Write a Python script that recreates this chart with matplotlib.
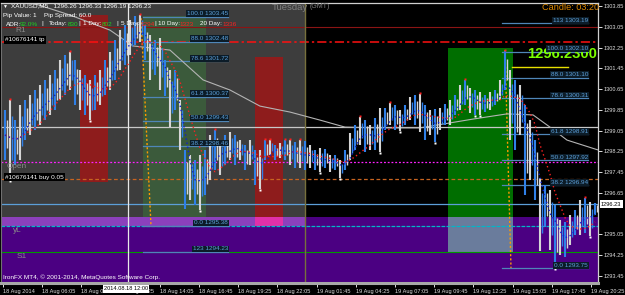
import numpy as np
import pandas as pd
import matplotlib
matplotlib.use("Agg")
import matplotlib.pyplot as plt
from matplotlib import font_manager as fm
from matplotlib.patches import Rectangle

# ---------------- data ----------------
highs = [1299.85, 1300.24, 1299.46, 1300.04, 1300.24, 1300.43, 1300.62, 1300.81, 1301.01, 1301.20,
         1301.39, 1301.78, 1301.97, 1302.09, 1301.78, 1301.39, 1301.20, 1301.01, 1301.20, 1301.39,
         1301.78, 1302.09, 1302.55, 1302.93, 1303.13, 1303.32, 1303.47, 1303.51, 1303.13, 1302.74,
         1302.55, 1302.63, 1301.78, 1301.39, 1301.39, 1300.24, 1298.31, 1298.12, 1297.92, 1298.12,
         1298.31, 1298.89, 1299.08, 1298.69, 1298.89, 1299.00, 1298.89, 1298.69, 1298.50, 1298.69,
         1298.31, 1298.31, 1298.69, 1298.69, 1298.50, 1298.58, 1298.69, 1298.69, 1298.62, 1298.69,
         1298.65, 1298.50, 1298.31, 1298.38, 1298.35, 1298.12, 1298.12, 1297.92, 1298.31, 1298.96,
         1299.27, 1299.58, 1299.46, 1299.27, 1299.54, 1299.93, 1299.93, 1300.12, 1300.04, 1299.85,
         1300.04, 1300.35, 1300.43, 1300.47, 1300.04, 1299.85, 1299.89, 1299.93, 1300.08, 1300.24,
         1300.43, 1300.81, 1301.01, 1300.70, 1300.62, 1300.54, 1300.43, 1300.54, 1300.62, 1301.01,
         1302.12, 1301.39, 1301.01, 1300.81, 1300.04, 1299.46, 1298.69, 1297.23, 1296.96, 1296.77,
         1296.19, 1295.61, 1295.53, 1295.80, 1295.99, 1296.38, 1296.46, 1296.30, 1296.26]
lows = [1297.92, 1297.15, 1297.73, 1297.92, 1298.69, 1298.89, 1299.08, 1299.27, 1299.46, 1299.66,
        1299.85, 1300.24, 1300.43, 1300.62, 1300.04, 1299.85, 1299.66, 1299.46, 1299.85, 1300.04,
        1300.43, 1300.62, 1301.01, 1301.39, 1301.58, 1301.97, 1302.36, 1302.47, 1301.78, 1301.01,
        1301.20, 1300.62, 1300.39, 1299.19, 1299.85, 1298.31, 1296.03, 1296.38, 1296.19, 1295.99,
        1296.57, 1297.15, 1297.54, 1297.34, 1297.73, 1297.92, 1297.73, 1297.92, 1297.54, 1297.73,
        1296.96, 1296.80, 1297.92, 1298.12, 1297.92, 1298.00, 1297.92, 1297.73, 1297.61, 1297.61,
        1297.54, 1297.61, 1297.54, 1297.46, 1297.61, 1297.46, 1297.54, 1297.23, 1297.54, 1297.92,
        1298.31, 1298.50, 1298.23, 1298.31, 1298.31, 1298.23, 1299.08, 1299.27, 1299.08, 1299.04,
        1299.27, 1299.46, 1299.27, 1299.00, 1298.69, 1298.89, 1298.62, 1299.08, 1299.27, 1299.27,
        1299.66, 1299.85, 1300.04, 1299.73, 1299.66, 1299.66, 1299.77, 1299.85, 1300.04, 1300.24,
        1300.62, 1298.69, 1298.31, 1298.89, 1296.57, 1297.15, 1296.38, 1294.41, 1295.34, 1294.45,
        1293.76, 1294.26, 1294.18, 1294.65, 1295.03, 1295.03, 1295.11, 1294.99, 1295.80]

ma_bars = [24.5, 54.7, 87.3, 106.1, 136.3, 163.3, 185.3, 209.8, 234.3, 258.8, 279.2, 307.8,
           340.4, 383.7, 411.4, 432.7, 446.5, 460.4, 485.7]
ma_vals = [1303.97, 1303.51, 1302.93, 1302.32, 1302.16, 1301.01, 1300.62, 1300.00, 1299.77,
           1299.46, 1299.19, 1299.16, 1299.16, 1299.50, 1299.70, 1299.66, 1299.19, 1298.69, 1298.31]

time_labels = ["18 Aug 2014", "18 Aug 06:05", "18 Aug 08:45", "18 Aug 11:25", "18 Aug 14:05",
               "18 Aug 16:45", "18 Aug 19:25", "18 Aug 22:05", "19 Aug 01:45", "19 Aug 04:25",
               "19 Aug 07:05", "19 Aug 09:45", "19 Aug 12:25", "19 Aug 15:05", "19 Aug 17:45",
               "19 Aug 20:25"]
price_ticks = [1303.85, 1303.05, 1302.25, 1301.45, 1300.65, 1299.85, 1299.05, 1298.25,
               1297.45, 1296.65, 1295.05, 1294.25, 1293.45]

# levels
r1_level, tp_level, open_level, buy_level = 1303.05, 1302.47, 1297.85, 1297.19
bid_level, yl_level, s1_level, cross_level = 1296.23, 1295.38, 1294.38, 1299.19
band_top = 1295.72
fib_left_levels = [1303.45, 1302.48, 1301.72, 1300.37, 1299.43, 1298.46, 1295.38, 1294.38]
fib_left_names = ["100.0 1303.45", "88.0 1302.48", "78.6 1301.72", "61.8 1300.37",
                  "50.0 1299.43", "38.2 1298.46", "0.0 1295.38", "123 1294.23"]
fib_right_levels = [1303.19, 1302.10, 1301.10, 1300.31, 1298.91, 1297.92, 1296.94, 1293.75]
fib_right_names = ["113 1303.19", "100.0 1302.10", "88.0 1301.10", "78.6 1300.31",
                   "61.8 1298.91", "50.0 1297.92", "38.2 1296.94", "0.0 1293.75"]

# ---------------- fonts ----------------
names = {f.name for f in fm.fontManager.ttflist}
if 'Liberation Sans Narrow' in names:
    FONT, FS = 'Liberation Sans Narrow', 5.5
elif 'Liberation Sans' in names:
    FONT, FS = 'Liberation Sans', 4.55
else:
    FONT, FS = 'DejaVu Sans', 4.0
TFS = FS * 0.9
plt.rcParams['font.family'] = [FONT, 'DejaVu Sans']

# ---------------- figure ----------------
W, H = 625, 295
PXB = 1.225  # pixels per bar
fig = plt.figure(figsize=(W / 100, H / 100), dpi=100, facecolor='black')
ax = fig.add_axes([1 / W, 12 / H, 597 / W, 280 / H])
ax.set_facecolor('black')
xl = (-2 / PXB, 595 / PXB)
yl = (1293.18, 1303.975)
ax.set_xlim(*xl)
ax.set_ylim(*yl)


def b(px):
    return (px - 3) / PXB


def rect(x0, x1, y0, y1, color, z=0.5):
    ax.add_patch(Rectangle((x0, y0), x1 - x0, y1 - y0, facecolor=color, edgecolor='none',
                           zorder=z))


# backgrounds / zones
rect(xl[0], b(305), band_top, yl[1], '#3d3d3d', 0.1)
rect(xl[0], xl[1], yl[0], band_top, '#4b0082', 0.2)
rect(xl[0], b(305), yl_level, band_top, '#8c40bc', 0.25)
rect(b(80), b(108), 1297.07, 1303.51, '#8e1c1c', 0.3)
rect(b(255), b(283), band_top, 1301.89, '#8e1c1c', 0.3)
rect(b(255), b(283), yl_level, band_top, '#e030a8', 0.3)
rect(b(143), b(206), band_top, 1303.47, '#3b5a3b', 0.3)
rect(b(448), b(513), band_top, 1302.24, '#006e00', 0.3)
rect(b(448), b(513), s1_level, band_top, '#6a7c9c', 0.3)

# horizontal levels
ax.axhline(r1_level, color='#8b1414', lw=0.8, zorder=1)
ax.axhline(tp_level, color='#ff1010', lw=1.1, ls=(0, (6, 2, 1.5, 2)), zorder=1)
ax.axhline(open_level, color='#ff20ff', lw=0.9, ls=(0, (1.5, 1.5)), zorder=1)
ax.axhline(buy_level, color='#c86420', lw=0.9, ls=(0, (3, 2)), zorder=1)
ax.axhline(bid_level, color='#5c9fd8', lw=0.9, zorder=1)
ax.axhline(yl_level, color='#00b8c8', lw=0.9, ls=(0, (3, 1)), zorder=1)
ax.axhline(s1_level, color='#009a00', lw=0.8, zorder=1)
ax.axhline(cross_level, color='#c8c8c8', lw=0.9, zorder=1)

# vertical lines
ax.axvline(b(128), color='#e8e8e8', lw=0.9, zorder=1)
ax.axvline(b(305), color='#77703c', lw=1.0, zorder=1)
ax.plot([b(141), b(151)], [1303.39, 1295.38], color='#ff9a00', lw=1.0, ls=(0, (1.5, 1.5)), zorder=2)
ax.plot([b(505), b(511)], [1302.16, 1293.76], color='#ff9a00', lw=1.0, ls=(0, (1.5, 1.5)), zorder=2)

# fib lines
for lv in fib_left_levels:
    ax.plot([b(143), b(228)], [lv, lv], color='#4f86b8', lw=0.9, zorder=2)
for lv in fib_right_levels:
    ax.plot([b(502), b(588)], [lv, lv], color='#4f86b8', lw=0.9, zorder=2)
ax.plot([b(512), b(568)], [1301.51, 1301.51], color='#e8e000', lw=1.0, zorder=2)

# moving average
ax.plot(ma_bars, ma_vals, color='#b4b4b4', lw=0.8, zorder=2)

# candles
hi = np.array(highs)
lo = np.array(lows)
n = len(hi)
xb = np.linspace(1.6, 483.3, n)
cols = ['#2f80e8' if i % 2 == 0 else '#d6d6d6' for i in range(n)]
ax.vlines(xb, lo, hi, colors=cols, lw=1.5, zorder=3)
mid = (hi + lo) / 2
ax.vlines(xb + 1.6, lo + (hi - lo) * 0.25, hi - (hi - lo) * 0.2,
          colors=['#d6d6d6' if i % 2 == 0 else '#2f80e8' for i in range(n)], lw=1.0, zorder=3)

# indicator dotted lines
red_ind = pd.Series(mid).rolling(7, min_periods=1).mean().values
blue_ind = pd.Series(mid).rolling(3, min_periods=1).mean().values
ax.plot(xb, red_ind, color='#ff2020', lw=1.0, ls=(0, (1, 2)), zorder=4)
ax.plot(xb, blue_ind, color='#1020d0', lw=1.0, ls=(0, (1, 2)), zorder=4)

# fractals
for i in range(n):
    a0, a1 = max(0, i - 3), min(n, i + 4)
    if hi[i] == hi[a0:a1].max():
        ax.plot(xb[i], hi[i] + 0.03, marker='s', ms=2, color='#ff2020', mec='none', zorder=5)
    if lo[i] == lo[a0:a1].min():
        ax.plot(xb[i], lo[i] - 0.03, marker='s', ms=2, color='white', mec='none', zorder=5)

# fib labels
lab_box = dict(facecolor='#0c1c28', edgecolor='none', pad=0.6)
for lv, nm in zip(fib_left_levels, fib_left_names):
    ax.text(b(228), lv + 0.02, nm, color='#5c9fd8', fontsize=FS, ha='right', va='bottom',
            bbox=lab_box, zorder=7)

# big price text
ax.text(b(527), 1302.0, "1296.2300", color='#7cff00', fontsize=FS * 2.35, fontweight='bold',
        ha='left', va='center', zorder=6, clip_on=True)
for lv, nm in zip(fib_right_levels, fib_right_names):
    ax.text(b(588), lv + 0.02, nm, color='#5c9fd8', fontsize=FS, ha='right', va='bottom',
            bbox=lab_box, zorder=7)

# axes ticks
ax.yaxis.tick_right()
ax.set_yticks(price_ticks)
ax.set_yticklabels([f"{v:.2f}" for v in price_ticks])
ax.set_xticks(np.arange(len(time_labels)) * 32)
ax.set_xticklabels(time_labels)
for t in ax.get_xticklabels():
    t.set_horizontalalignment('left')
ax.tick_params(axis='both', colors='#e0e0e0', labelsize=TFS, length=3, width=0.7, pad=1.2)
for s in ['top', 'right']:
    ax.spines[s].set_color('#d0d0d0')
    ax.spines[s].set_linewidth(0.9)
ax.spines['left'].set_color('#707070')
ax.spines['bottom'].set_color('#a8a8a8')
ax.spines['bottom'].set_linewidth(2.2)


def ptxt(x, y, s, color='white', size=None, **kw):
    fig.text(x / W, 1 - y / H, s, color=color, fontsize=size or FS, va='center', **kw)


# header texts
ptxt(3, 6, "\u25bc", size=FS * 0.8)
ptxt(11, 6, "XAUUSD,M5   1296.26 1296.33 1296.19 1296.23")
ptxt(3, 15, "Pip Value: 1")
ptxt(44, 15, "Pip Spread: 60.0")
parts = [(6, "ADR:", 'white'), (20, "92.0%", '#20d020'), (41, "|", 'white'), (49, "Today:", 'white'),
         (68, "830", '#20d020'), (78, "|", 'white'), (83, "1 Day:", 'white'), (102, "802", '#20d020'),
         (116, "|", 'white'), (121, "5 Day:", 'white'), (140, "1294", '#ff2020'), (154, "|", 'white'),
         (158, "10 Day:", 'white'), (179, "1323", '#ff2020'), (200, "20 Day:", 'white'),
         (222, "1336", '#ff2020')]
for x, s, c in parts:
    ptxt(x, 24, s, color=c)
ptxt(272, 7, "Tuesday", color='#808080', size=FS * 1.5)
ptxt(310, 7, "(GMT)", color='#808080', size=FS * 1.1)
ptxt(542, 7, "Candle: 03:20", color='#e08a00', size=FS * 1.45)
ptxt(15, 31, "R1", color='#8a8a8a', size=FS * 1.3)
ptxt(7, 166, "Open", color='#8a8a8a', size=FS * 1.3)
ptxt(13, 231, "yL", color='#8a8a8a', size=FS * 1.3)
ptxt(17, 257, "S1", color='#8a8a8a', size=FS * 1.3)
box_k = dict(facecolor='black', edgecolor='none', pad=0.8)
ptxt(5, 40, "#10676141 tp", bbox=box_k)
ptxt(5, 177, "#10676141 buy 0.05", bbox=box_k)
ptxt(3, 277, "IronFX MT4, \u00a9 2001-2014, MetaQuotes Software Corp.")
ptxt(104, 289, "2014.08.18 12:00", color='black', size=TFS,
     bbox=dict(facecolor='white', edgecolor='none', pad=0.8))
ptxt(601, 204, "1296.23", color='black', size=TFS,
     bbox=dict(facecolor='white', edgecolor='none', pad=0.8))

fig.savefig("out.png", dpi=100, facecolor='black')
